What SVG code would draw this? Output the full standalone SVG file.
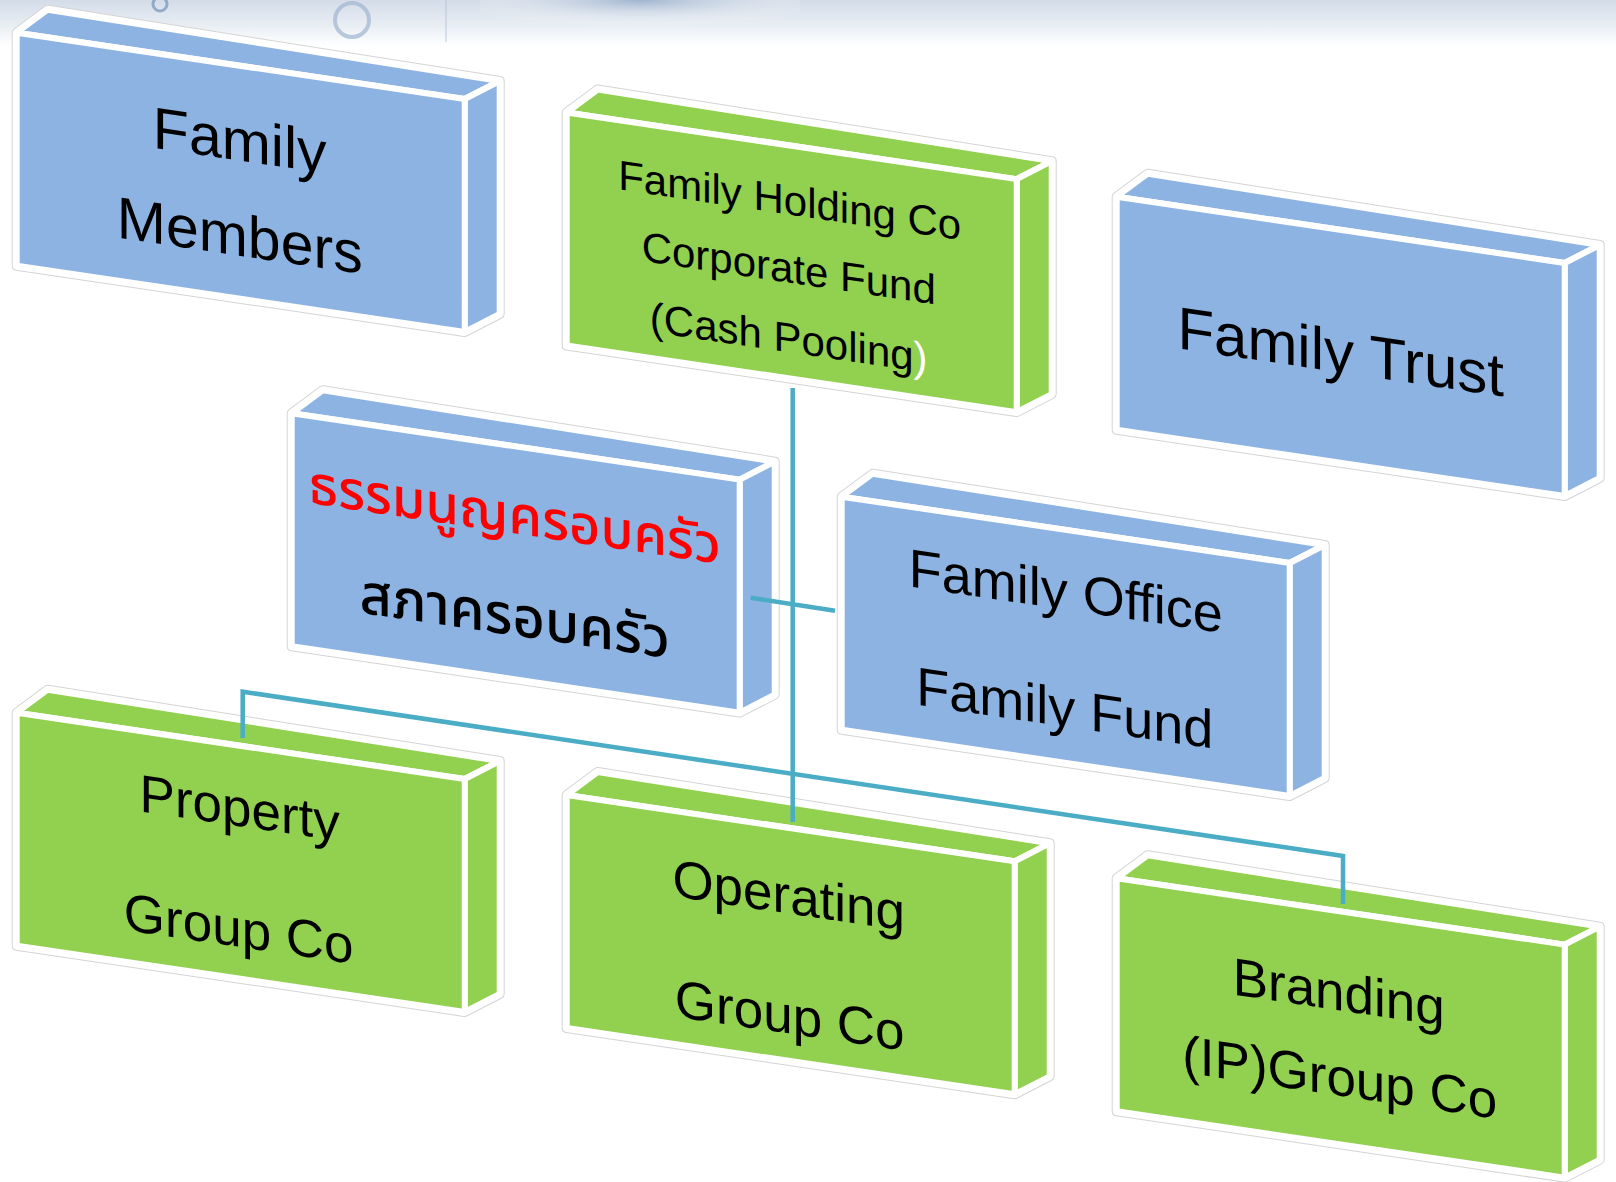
<svg xmlns="http://www.w3.org/2000/svg" width="1616" height="1182" viewBox="0 0 1616 1182">
<defs>
<linearGradient id="bgfade" x1="0" y1="0" x2="0" y2="1">
<stop offset="0" stop-color="#d3dce8"/>
<stop offset="0.55" stop-color="#e9eef4"/>
<stop offset="1" stop-color="#ffffff"/>
</linearGradient>
<radialGradient id="bgspot" cx="0.5" cy="0" r="0.6">
<stop offset="0" stop-color="#9fb4cf"/>
<stop offset="1" stop-color="#ffffff" stop-opacity="0"/>
</radialGradient>
</defs>
<style>
.sil{fill:#ffffff;stroke:#d4d4d4;stroke-width:10;stroke-linejoin:round}
.silw{fill:#ffffff;stroke:#ffffff;stroke-width:8;stroke-linejoin:round}
.face{stroke:#ffffff;stroke-width:6;stroke-linejoin:round}
.blue .face{fill:#8db3e2}
.green .face{fill:#92d050}
.txt{font-family:"Liberation Sans",Arial,sans-serif;fill:#000000;text-anchor:middle}
.thai{font-family:"Noto Sans Thai","Tahoma","DejaVu Sans","Noto Sans",sans-serif;font-weight:500;text-anchor:middle}
.conn{fill:none;stroke:#4bacc6;stroke-width:4.5}
</style>
<rect x="0" y="0" width="1616" height="1182" fill="#ffffff"/>
<g id="background">
<rect x="0" y="0" width="1616" height="46" fill="url(#bgfade)"/>
<rect x="480" y="0" width="320" height="44" fill="url(#bgspot)"/>
<circle cx="160" cy="4" r="7" fill="none" stroke="#7f9cc0" stroke-width="3" opacity="0.8"/>
<circle cx="352" cy="20" r="17" fill="none" stroke="#9fb5d0" stroke-width="4" opacity="0.7"/>
<line x1="446" y1="0" x2="446" y2="42" stroke="#b8c6d8" stroke-width="1"/>
</g>

<g id="node-family-members" class="blue">
<path class="sil" d="M16.7,265.7 L16.7,32.7 L47.7,9.7 L499.7,81 L499.7,314 L464.7,332 Z"/>
<path class="silw" d="M16.7,265.7 L16.7,32.7 L47.7,9.7 L499.7,81 L499.7,314 L464.7,332 Z"/>
<path class="face" d="M16.7,32.7 L47.7,9.7 L499.7,81 L464.7,99 Z"/>
<path class="face" d="M464.7,99 L499.7,81 L499.7,314 L464.7,332 Z"/>
<path class="face" d="M16.7,32.7 L464.7,99 L464.7,332 L16.7,265.7 Z"/>
<g transform="translate(240.7,182.4) skewY(8.42)">
<text class="txt" font-size="59" x="-1" y="-21.7">Family</text>
<text class="txt" font-size="59" x="-1" y="73.5">Members</text>
</g>
</g>

<g id="node-family-holding" class="green">
<path class="sil" d="M566.7,345.5 L566.7,112.5 L597.7,89.5 L1051.7,161.1 L1051.7,394.1 L1016.7,412.1 Z"/>
<path class="silw" d="M566.7,345.5 L566.7,112.5 L597.7,89.5 L1051.7,161.1 L1051.7,394.1 L1016.7,412.1 Z"/>
<path class="face" d="M566.7,112.5 L597.7,89.5 L1051.7,161.1 L1016.7,179.1 Z"/>
<path class="face" d="M1016.7,179.1 L1051.7,161.1 L1051.7,394.1 L1016.7,412.1 Z"/>
<path class="face" d="M566.7,112.5 L1016.7,179.1 L1016.7,412.1 L566.7,345.5 Z"/>
<g transform="translate(791.7,262.3) skewY(8.42)">
<text class="txt" font-size="42" x="-2" y="-47.4">Family Holding Co</text>
<text class="txt" font-size="42" x="-3" y="20.7">Corporate Fund</text>
<text class="txt" font-size="42" x="-3" y="90.3">(Cash Pooling<tspan fill="#ffffff">)</tspan></text>
</g>
</g>

<g id="node-family-trust" class="blue">
<path class="sil" d="M1116.7,429.7 L1116.7,196.7 L1147.7,173.7 L1599.7,245 L1599.7,478 L1564.7,496 Z"/>
<path class="silw" d="M1116.7,429.7 L1116.7,196.7 L1147.7,173.7 L1599.7,245 L1599.7,478 L1564.7,496 Z"/>
<path class="face" d="M1116.7,196.7 L1147.7,173.7 L1599.7,245 L1564.7,263 Z"/>
<path class="face" d="M1564.7,263 L1599.7,245 L1599.7,478 L1564.7,496 Z"/>
<path class="face" d="M1116.7,196.7 L1564.7,263 L1564.7,496 L1116.7,429.7 Z"/>
<g transform="translate(1340.7,346.4) skewY(8.42)">
<text class="txt" font-size="60" x="0" y="26">Family Trust</text>
</g>
</g>

<g id="node-family-charter" class="blue">
<path class="sil" d="M291.7,646.3 L291.7,413.3 L322.7,390.3 L774.7,461.6 L774.7,694.6 L739.7,712.6 Z"/>
<path class="silw" d="M291.7,646.3 L291.7,413.3 L322.7,390.3 L774.7,461.6 L774.7,694.6 L739.7,712.6 Z"/>
<path class="face" d="M291.7,413.3 L322.7,390.3 L774.7,461.6 L739.7,479.6 Z"/>
<path class="face" d="M739.7,479.6 L774.7,461.6 L774.7,694.6 L739.7,712.6 Z"/>
<path class="face" d="M291.7,413.3 L739.7,479.6 L739.7,712.6 L291.7,646.3 Z"/>
<g transform="translate(515.7,563) skewY(8.42)">
<text class="thai" font-size="54" fill="#ff0000" font-weight="600" x="-1" y="-29.5">ธรรมนูญครอบครัว</text>
<text class="thai" font-size="56" fill="#000000" x="-1" y="72.5">สภาครอบครัว</text>
</g>
</g>

<g id="node-family-office" class="blue">
<path class="sil" d="M841.7,729.7 L841.7,496.7 L872.7,473.7 L1324.7,545 L1324.7,778 L1289.7,796 Z"/>
<path class="silw" d="M841.7,729.7 L841.7,496.7 L872.7,473.7 L1324.7,545 L1324.7,778 L1289.7,796 Z"/>
<path class="face" d="M841.7,496.7 L872.7,473.7 L1324.7,545 L1289.7,563 Z"/>
<path class="face" d="M1289.7,563 L1324.7,545 L1324.7,778 L1289.7,796 Z"/>
<path class="face" d="M841.7,496.7 L1289.7,563 L1289.7,796 L841.7,729.7 Z"/>
<g transform="translate(1065.7,646.4) skewY(8.42)">
<text class="txt" font-size="54" x="0" y="-36.8">Family Office</text>
<text class="txt" font-size="54" x="-1" y="80.3">Family Fund</text>
</g>
</g>

<g id="node-property" class="green">
<path class="sil" d="M16.7,945.7 L16.7,712.7 L47.7,689.7 L499.7,761 L499.7,994 L464.7,1012 Z"/>
<path class="silw" d="M16.7,945.7 L16.7,712.7 L47.7,689.7 L499.7,761 L499.7,994 L464.7,1012 Z"/>
<path class="face" d="M16.7,712.7 L47.7,689.7 L499.7,761 L464.7,779 Z"/>
<path class="face" d="M464.7,779 L499.7,761 L499.7,994 L464.7,1012 Z"/>
<path class="face" d="M16.7,712.7 L464.7,779 L464.7,1012 L16.7,945.7 Z"/>
<g transform="translate(240.7,862.4) skewY(8.42)">
<text class="txt" font-size="53" x="-1" y="-36.2">Property</text>
<text class="txt" font-size="53" x="-2" y="84.7">Group Co</text>
</g>
</g>

<g id="node-operating" class="green">
<path class="sil" d="M566.7,1028 L566.7,795 L597.7,772 L1049.7,843.3 L1049.7,1076.3 L1014.7,1094.3 Z"/>
<path class="silw" d="M566.7,1028 L566.7,795 L597.7,772 L1049.7,843.3 L1049.7,1076.3 L1014.7,1094.3 Z"/>
<path class="face" d="M566.7,795 L597.7,772 L1049.7,843.3 L1014.7,861.3 Z"/>
<path class="face" d="M1014.7,861.3 L1049.7,843.3 L1049.7,1076.3 L1014.7,1094.3 Z"/>
<path class="face" d="M566.7,795 L1014.7,861.3 L1014.7,1094.3 L566.7,1028 Z"/>
<g transform="translate(790.7,944.7) skewY(8.42)">
<text class="txt" font-size="53" x="-2" y="-31">Operating</text>
<text class="txt" font-size="53" x="-1" y="89">Group Co</text>
</g>
</g>

<g id="node-branding" class="green">
<path class="sil" d="M1116.7,1111.3 L1116.7,878.3 L1147.7,855.3 L1599.7,926.6 L1599.7,1159.6 L1564.7,1177.6 Z"/>
<path class="silw" d="M1116.7,1111.3 L1116.7,878.3 L1147.7,855.3 L1599.7,926.6 L1599.7,1159.6 L1564.7,1177.6 Z"/>
<path class="face" d="M1116.7,878.3 L1147.7,855.3 L1599.7,926.6 L1564.7,944.6 Z"/>
<path class="face" d="M1564.7,944.6 L1599.7,926.6 L1599.7,1159.6 L1564.7,1177.6 Z"/>
<path class="face" d="M1116.7,878.3 L1564.7,944.6 L1564.7,1177.6 L1116.7,1111.3 Z"/>
<g transform="translate(1340.7,1028) skewY(8.42)">
<text class="txt" font-size="53" x="-2" y="-17.5">Branding</text>
<text class="txt" font-size="53" x="-1" y="67.7">(IP)Group Co</text>
</g>
</g>

<g id="connectors">
<path class="conn" d="M792.7,388 L792.7,822"/>
<path class="conn" d="M750.7,597.7 L835,610.7"/>
<path class="conn" d="M242.7,738 L242.7,691.7 L1343,856 L1343,904"/>
</g>
</svg>
